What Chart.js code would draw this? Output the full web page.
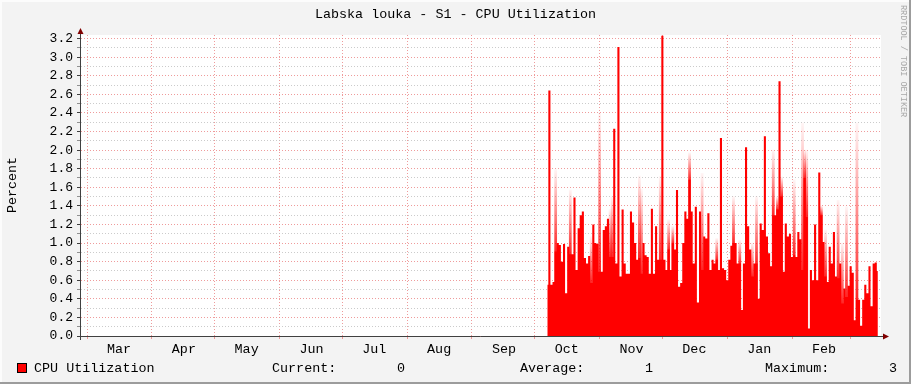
<!DOCTYPE html>
<html>
<head>
<meta charset="utf-8">
<script src="https://cdn.jsdelivr.net/npm/chart.js@4.4.0/dist/chart.umd.min.js"></script>
<style>
html, body { margin: 0; padding: 0; background: #f3f3f3; }
#wrap { width: 911px; height: 384px; }
</style>
</head>
<body>
<div id="wrap"><canvas id="cpuChart" width="911" height="384"></canvas></div>
<script>
// month labels and day offsets of each month start (day 0 = 1 Mar)
const monthNames = ['Mar', 'Apr', 'May', 'Jun', 'Jul', 'Aug', 'Sep', 'Oct', 'Nov', 'Dec', 'Jan', 'Feb'];
const monthStarts = [0, 31, 61, 92, 122, 153, 184, 214, 245, 275, 306, 337, 365];

// daily CPU values, first sample on day 220 (early Oct)
const firstDay = 220;
const cpuValues = [
    0.55,
    2.64, 0.55, 0.58, 0.91, 1.00, 0.98, 0.80, 0.99, 0.46, 0.96,
    0.88, 0.88, 1.49, 0.71, 1.16, 1.30, 1.34, 0.84, 0.78, 0.86,
    0.57, 1.20, 1.00, 0.99, 0.69, 0.69, 1.14, 1.18, 1.26, 0.85,
    0.85, 2.23, 0.78, 3.11, 0.64, 1.36, 0.78, 0.67, 0.67, 1.34,
    1.22, 1.00, 0.82, 0.84, 0.67, 1.00, 0.87, 0.85, 0.67, 1.37,
    0.67, 1.18, 0.82, 0.82, 3.23, 0.82, 0.71, 0.93, 0.71, 1.00,
    0.93, 1.57, 0.53, 0.57, 1.00, 1.34, 1.26, 1.68, 1.34, 0.78,
    1.39, 0.36, 1.34, 0.71, 1.07, 1.05, 1.32, 0.71, 0.82, 0.78,
    0.82, 0.71, 2.13, 0.73, 0.71, 0.60, 0.82, 0.97, 1.00, 1.00,
    0.78, 0.78, 0.28, 0.78, 2.03, 1.18, 0.93, 0.64, 0.78, 0.78,
    0.40, 1.21, 1.14, 2.15, 1.07, 0.89, 0.75, 1.30, 1.30, 1.36,
    2.74, 1.50, 0.69, 1.21, 1.07, 1.10, 0.85, 0.87, 0.85, 1.12,
    1.04, 0.71, 1.70, 1.28, 0.08, 0.71, 0.60, 1.20, 0.60, 1.76,
    1.30, 1.01, 0.64, 0.58, 0.96, 0.78, 1.12, 0.64, 0.62, 0.78,
    0.35, 0.51, 0.42, 0.54, 0.75, 0.68, 0.17, 0.39, 0.39, 0.11,
    0.39, 0.55, 0.46, 0.75, 0.32, 0.78, 0.79, 0.70
];

// short spikes that show only as faded tops
const peakDays = [224, 231, 241, 245, 250, 251, 264, 265, 274, 278, 280, 288, 294, 301, 309, 312,
    318, 320, 328, 330, 332, 338, 342, 343, 344, 351, 353, 359, 361, 363, 368];
const peakValues = [1.79, 1.57, 1.07, 2.40, 1.36, 1.50, 1.72, 1.58, 1.72, 1.25, 1.18, 1.97, 1.75, 1.05, 1.50, 1.03,
    1.00, 1.50, 2.00, 1.50, 1.71, 1.68, 2.29, 2.00, 2.00, 1.40, 1.14, 1.46, 1.00, 1.39, 2.29];

const titleText = 'Labska louka - S1 - CPU Utilization';
const yAxisTitle = 'Percent';
const seriesName = 'CPU Utilization';
const legendStats = [['Current:', '0'], ['Average:', '1'], ['Maximum:', '3']];
const watermark = 'RRDTOOL / TOBI OETIKER';

const FONT = '"Liberation Mono", "DejaVu Sans Mono", monospace';
const FONT_SIZE = 13.4;

const points = cpuValues.map((v, i) => ({ x: firstDay + i, y: v }));
const peakPoints = peakDays.map((d, i) => ({ x: d, y: peakValues[i] }));

// faded fill for a spike: solid where the daily value is, almost white at its top
function peakFill(c) {
    const chart = c.chart;
    if (!chart.chartArea || c.type !== 'data') return 'rgba(255,0,0,0.3)';
    const yScale = chart.scales.y;
    const day = peakDays[c.dataIndex];
    const base = cpuValues[day - firstDay] || 0;
    const y0 = yScale.getPixelForValue(base);
    const y1 = yScale.getPixelForValue(peakValues[c.dataIndex]);
    const g = chart.ctx.createLinearGradient(0, y0, 0, y1);
    g.addColorStop(0, 'rgba(255,0,0,0.85)');
    g.addColorStop(1, 'rgba(255,0,0,0.04)');
    return g;
}

// background, frame, axes with arrows and all free texts
const rrdPlugin = {
    id: 'rrdLook',
    beforeDraw(chart) {
        const ctx = chart.ctx;
        const a = chart.chartArea;
        ctx.save();
        ctx.fillStyle = '#f3f3f3';
        ctx.fillRect(0, 0, chart.width, chart.height);
        ctx.fillStyle = '#ffffff';
        ctx.fillRect(a.left, a.top, a.right - a.left, a.bottom - a.top);
        // frame
        ctx.fillStyle = '#fcfcfc';
        ctx.fillRect(0, 0, chart.width, 2);
        ctx.fillRect(0, 0, 2, chart.height);
        ctx.fillStyle = '#9c9c9c';
        ctx.fillRect(chart.width - 2, 0, 2, chart.height);
        ctx.fillRect(0, chart.height - 2, chart.width, 2);
        ctx.restore();
    },
    afterDraw(chart) {
        const ctx = chart.ctx;
        const a = chart.chartArea;
        ctx.save();
        // axes
        ctx.strokeStyle = '#404040';
        ctx.lineWidth = 1;
        ctx.beginPath();
        ctx.moveTo(a.left - 4, a.bottom + 0.5);
        ctx.lineTo(a.right + 3, a.bottom + 0.5);
        ctx.moveTo(a.left - 0.5, a.bottom + 4);
        ctx.lineTo(a.left - 0.5, a.top - 3);
        ctx.stroke();
        ctx.fillStyle = '#800000';
        ctx.beginPath();
        ctx.moveTo(a.right + 2, a.bottom - 2.5);
        ctx.lineTo(a.right + 8, a.bottom + 0.5);
        ctx.lineTo(a.right + 2, a.bottom + 3.5);
        ctx.closePath();
        ctx.fill();
        ctx.beginPath();
        ctx.moveTo(a.left - 3.5, a.top - 1);
        ctx.lineTo(a.left - 0.5, a.top - 7);
        ctx.lineTo(a.left + 2.5, a.top - 1);
        ctx.closePath();
        ctx.fill();

        // title
        ctx.fillStyle = '#000';
        ctx.font = FONT_SIZE + 'px ' + FONT;
        ctx.textBaseline = 'middle';
        ctx.textAlign = 'center';
        ctx.fillText(titleText, chart.width / 2, 14);

        // y axis title
        ctx.save();
        ctx.translate(12, 185);
        ctx.rotate(-Math.PI / 2);
        ctx.fillText(yAxisTitle, 0, 0);
        ctx.restore();

        // legend row
        ctx.textAlign = 'left';
        ctx.fillStyle = '#ff0000';
        ctx.fillRect(17, 363, 10, 10);
        ctx.strokeStyle = '#000';
        ctx.strokeRect(17.5, 363.5, 9, 9);
        ctx.fillStyle = '#000';
        ctx.fillText(seriesName, 34, 368);
        const labelX = [272, 520, 765];
        const valueX = [397, 645, 889];
        legendStats.forEach((s, i) => {
            ctx.fillText(s[0], labelX[i], 368);
            ctx.fillText(s[1], valueX[i], 368);
        });

        // watermark on the right edge
        ctx.save();
        ctx.fillStyle = '#a8a8a8';
        ctx.font = '8.5px ' + FONT;
        ctx.translate(903, 5);
        ctx.rotate(Math.PI / 2);
        ctx.textBaseline = 'middle';
        ctx.fillText(watermark, 0, 0);
        ctx.restore();
        ctx.restore();
    }
};

const ctx = document.getElementById('cpuChart').getContext('2d');
const chart = new Chart(ctx, {
    type: 'line',
    data: {
        datasets: [{
            label: seriesName,
            data: points,
            stepped: 'middle',
            fill: 'origin',
            backgroundColor: '#ff0000',
            borderWidth: 0,
            pointRadius: 0,
            order: 1
        }, {
            type: 'bar',
            label: 'peaks',
            data: peakPoints,
            backgroundColor: peakFill,
            borderWidth: 0,
            barPercentage: 1,
            categoryPercentage: 1,
            order: 2
        }]
    },
    options: {
        responsive: false,
        animation: false,
        devicePixelRatio: 1,
        layout: { padding: { left: 0, right: 30, top: 35, bottom: 0 } },
        plugins: {
            legend: { display: false },
            tooltip: { enabled: false }
        },
        scales: {
            x: {
                type: 'linear',
                offset: false,
                min: -2.87,
                max: 379.5,
                afterBuildTicks: (scale) => {
                    scale.ticks = monthStarts.map(v => ({ value: v }));
                },
                afterFit: (scale) => { scale.height = 48; },
                ticks: {
                    autoSkip: false,
                    maxRotation: 0,
                    labelOffset: 32,
                    padding: 2,
                    color: '#000',
                    font: { family: FONT, size: FONT_SIZE },
                    callback: (v, i) => monthNames[i] || ''
                },
                grid: {
                    offset: false,
                    color: 'rgba(235, 130, 130, 0.8)',
                    tickLength: 3,
                    tickColor: 'rgba(235, 130, 130, 0.8)'
                },
                border: { display: false, dash: [1, 2] }
            },
            y: {
                min: 0,
                max: 3.238,
                afterBuildTicks: (scale) => {
                    const t = [];
                    for (let i = 0; i <= 32; i++) t.push({ value: i / 10 });
                    scale.ticks = t;
                },
                afterFit: (scale) => { scale.width = 81; },
                ticks: {
                    autoSkip: false,
                    padding: 4,
                    color: '#000',
                    font: { family: FONT, size: 13 },
                    callback: (v, i) => (i % 2 === 0 ? v.toFixed(1) : '')
                },
                grid: {
                    color: (c) => (c.index % 2 === 0 ? 'rgba(235, 130, 130, 0.8)' : 'rgba(190, 190, 190, 0.8)'),
                    tickLength: 4,
                    tickColor: (c) => (c.index % 2 === 0 ? '#404040' : '#909090'),
                    tickBorderDash: []
                },
                border: { display: false, dash: [1, 2] }
            }
        }
    },
    plugins: [rrdPlugin]
});
</script>
</body>
</html>
